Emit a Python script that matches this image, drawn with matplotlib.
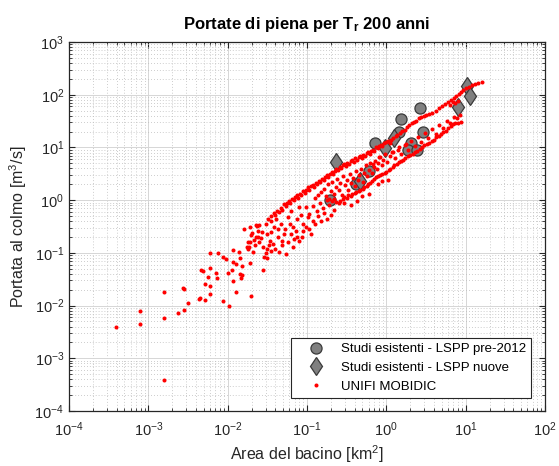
"""Portate di piena per Tr 200 anni: confronto studi esistenti / UNIFI MOBIDIC."""

import numpy as np
import matplotlib

matplotlib.use("Agg")
import matplotlib.pyplot as plt

plt.rcParams["font.family"] = ["Liberation Sans", "DejaVu Sans"]
plt.rcParams["mathtext.fontset"] = "custom"
plt.rcParams["mathtext.rm"] = "Liberation Sans"
plt.rcParams["mathtext.it"] = "Liberation Sans:italic"
plt.rcParams["mathtext.bf"] = "Liberation Sans:bold"

# Studi esistenti - LSPP pre-2012 (area km2, portata m3/s)
pre_area = [2.66, 1.55, 1.43, 2.92, 0.71, 2.07, 1.88, 2.41, 0.60, 0.41, 0.195]
pre_q = [56.0, 34.0, 19.5, 20.0, 12.3, 12.1, 8.8, 9.0, 3.5, 2.05, 1.0]

# Studi esistenti - LSPP nuove
new_area = [10.5, 11.2, 7.9, 1.24, 0.97, 0.232, 0.47]
new_q = [148.0, 94.0, 58.0, 15.3, 9.7, 5.4, 2.3]

# UNIFI MOBIDIC as (log10 area, log10 portata)
mobidic_tail = [
    (-3.41, -2.40), (-3.10, -2.10), (-3.10, -2.35), (-2.80, -1.74), (-2.80, -2.24),
    (-2.80, -3.41), (-2.56, -1.66), (-2.55, -1.69), (-2.62, -2.14), (-2.55, -2.08),
    (-2.50, -1.95), (-2.35, -1.86), (-2.29, -1.89), (-2.22, -1.78), (-2.28, -1.60),
    (-2.22, -1.62), (-2.25, -1.45), (-2.34, -1.32), (-2.31, -1.34), (-2.22, -1.29),
    (-2.15, -1.38), (-2.14, -1.47), (-2.22, -1.00), (-2.06, -1.91), (-1.98, -2.00),
    (-2.12, -1.00), (-2.06, -1.07), (-2.02, -1.12), (-1.93, -0.95), (-1.93, -1.17),
    (-1.94, -1.32), (-1.99, -1.39), (-1.93, -1.53), (-1.89, -1.74), (-1.85, -1.40),
    (-1.82, -1.42), (-1.83, -1.48), (-1.85, -1.09), (-1.82, -1.25), (-1.79, -0.54),
    (-1.76, -0.88), (-1.74, -0.92), (-1.72, -0.80), (-1.72, -1.20), (-1.71, -1.81),
    (-1.63, -0.49), (-1.61, -0.47), (-1.90, -1.22), (-1.86, -0.99), (-2.36, -1.87),
]
mobidic_left = [
    (-1.75, -0.80), (-1.73, -0.89), (-1.68, -0.99), (-1.64, -0.48), (-1.72, -0.51),
    (-1.64, -0.70), (-1.60, -0.80), (-1.56, -0.89), (-1.54, -1.08), (-1.50, -0.92),
    (-1.47, -0.77), (-1.51, -0.64), (-1.45, -0.61), (-1.43, -0.83), (-1.41, -0.51),
    (-1.39, -0.35), (-1.37, -0.70), (-1.35, -0.99), (-1.31, -0.77), (-1.29, -0.64),
    (-1.26, -1.02), (-1.24, -0.32), (-1.22, -0.45), (-1.20, -0.64), (-1.18, -0.51),
    (-1.16, -0.73), (-1.14, -0.58), (-1.13, -0.70), (-1.10, -0.13), (-1.08, -0.29),
    (-1.05, -0.45), (-1.01, -0.13), (-0.99, -0.32), (-1.01, -0.51), (-0.95, -0.64),
    (-0.93, -0.39), (-0.97, -0.26), (-1.05, -0.58), (-1.10, -0.77), (-1.12, -0.35),
    (-1.20, -0.20), (-1.33, -0.45), (-1.28, -0.55), (-1.36, -0.55), (-1.46, -0.40),
    (-1.52, -0.46), (-1.57, -0.60), (-1.62, -0.58), (-1.66, -0.85), (-1.70, -0.66),
    (-1.58, -0.72), (-1.48, -0.86), (-1.40, -0.92), (-1.32, -0.86), (-1.24, -0.80),
    (-1.18, -0.88), (-1.06, -0.70), (-0.98, -0.55), (-0.90, -0.45), (-0.86, -0.30),
    (-0.82, -0.40), (-0.78, -0.25), (-0.75, -0.35), (-0.70, -0.28), (-0.66, -0.18),
    (-1.69, -0.62), (-1.67, -0.75), (-1.62, -0.70), (-1.55, -1.33), (-1.50, -1.10),
    (-1.52, -1.00), (-1.46, -0.96), (-1.49, -0.35),
]
mobidic_upper = [
    (-1.45, -0.30), (-1.42, -0.24), (-1.40, -0.28), (-1.38, -0.20), (-1.35, -0.22),
    (-1.33, -0.15), (-1.31, -0.18), (-1.29, -0.08), (-1.27, -0.12), (-1.25, -0.05),
    (-1.23, -0.02), (-1.21, -0.06), (-1.19, 0.03), (-1.17, 0.00), (-1.15, 0.06),
    (-1.13, 0.09), (-1.11, 0.04), (-1.09, 0.12), (-1.07, 0.10), (-1.05, 0.17),
    (-1.03, 0.14), (-1.01, 0.20), (-0.99, 0.24), (-0.97, 0.19), (-0.95, 0.27),
    (-0.93, 0.29), (-0.91, 0.25), (-0.89, 0.33), (-0.87, 0.31), (-0.85, 0.37),
    (-0.83, 0.34), (-0.81, 0.41), (-0.79, 0.39), (-0.77, 0.44), (-0.75, 0.47),
    (-0.73, 0.43), (-0.71, 0.50), (-0.69, 0.53), (-0.67, 0.49), (-0.65, 0.56),
    (-0.63, 0.60), (-0.61, 0.57), (-0.59, 0.63), (-0.57, 0.61), (-0.55, 0.66),
    (-0.53, 0.69), (-0.51, 0.65), (-0.49, 0.71), (-0.47, 0.68), (-0.45, 0.74),
    (-0.43, 0.76), (-0.41, 0.72), (-0.39, 0.79), (-0.37, 0.77), (-0.35, 0.81),
    (-0.33, 0.84), (-0.31, 0.80), (-0.29, 0.86), (-0.27, 0.83), (-0.25, 0.89),
    (-0.23, 0.92), (-0.21, 0.88), (-0.19, 0.94), (-0.17, 0.96), (-0.15, 0.93),
    (-0.13, 1.00), (-0.11, 0.98), (-0.09, 1.02), (-0.07, 1.05), (-0.05, 1.03),
    (-0.03, 1.08), (-0.01, 1.10), (0.02, 1.12), (0.04, 1.09), (0.06, 1.15),
    (0.09, 1.18), (0.12, 1.21), (0.14, 1.24), (0.17, 1.27), (0.20, 1.31),
    (0.23, 1.34), (0.26, 1.38), (0.29, 1.42), (0.32, 1.46), (0.35, 1.49),
    (0.38, 1.51), (0.41, 1.55), (0.44, 1.57), (0.47, 1.59), (0.50, 1.61),
    (0.54, 1.63), (0.58, 1.66), (0.62, 1.70), (0.66, 1.75), (0.70, 1.79),
    (0.74, 1.83), (0.78, 1.87), (0.82, 1.90), (0.85, 1.94), (0.88, 1.97),
    (0.91, 2.01), (0.94, 2.05), (0.97, 2.09), (1.00, 2.12), (1.04, 2.15),
    (1.08, 2.18), (1.12, 2.21), (1.16, 2.23), (1.20, 2.25), (0.84, 1.86),
    (0.87, 1.84), (0.80, 1.80), (0.90, 1.88),
]
mobidic_lower = [
    (-0.75, 0.00), (-0.72, 0.03), (-0.69, -0.02), (-0.66, 0.02), (-0.63, -0.03),
    (-0.60, -0.05), (-0.58, -0.01), (-0.55, 0.03), (-0.53, 0.06), (-0.50, 0.05),
    (-0.48, 0.09), (-0.45, 0.08), (-0.43, 0.12), (-0.40, 0.14), (-0.38, 0.16),
    (-0.35, 0.18), (-0.33, 0.20), (-0.30, 0.22), (-0.28, 0.25), (-0.25, 0.27),
    (-0.23, 0.30), (-0.20, 0.33), (-0.18, 0.37), (-0.15, 0.41), (-0.13, 0.44),
    (-0.10, 0.46), (-0.08, 0.48), (-0.05, 0.50), (-0.02, 0.52), (0.00, 0.54),
    (0.03, 0.58), (0.05, 0.60), (0.08, 0.63), (0.10, 0.66), (0.13, 0.69),
    (0.16, 0.72), (0.18, 0.75), (0.21, 0.77), (0.24, 0.80), (0.27, 0.83),
    (0.30, 0.86), (0.33, 0.88), (0.36, 0.91), (0.39, 0.94), (0.42, 0.97),
    (0.45, 1.00), (0.48, 1.04), (0.51, 1.07), (0.54, 1.09), (0.57, 1.12),
    (0.60, 1.15), (0.63, 1.19), (0.66, 1.22), (0.69, 1.25), (0.72, 1.29),
    (0.75, 1.32), (0.78, 1.36), (0.81, 1.40), (0.84, 1.44), (0.87, 1.46),
    (0.90, 1.47), (0.94, 1.49),
]
mobidic_middle = [
    (-0.92, -0.12), (-0.90, 0.05), (-0.88, -0.20), (-0.86, 0.10), (-0.84, -0.05),
    (-0.82, 0.15), (-0.80, -0.15), (-0.78, 0.22), (-0.76, 0.08), (-0.74, 0.30),
    (-0.72, -0.10), (-0.70, 0.18), (-0.68, 0.35), (-0.66, 0.12), (-0.64, 0.25),
    (-0.62, 0.40), (-0.60, 0.20), (-0.58, 0.32), (-0.56, 0.10), (-0.54, 0.45),
    (-0.52, 0.28), (-0.50, 0.38), (-0.48, 0.20), (-0.46, 0.50), (-0.44, 0.33),
    (-0.42, 0.42), (-0.40, 0.27), (-0.38, 0.55), (-0.36, 0.38), (-0.34, 0.47),
    (-0.32, 0.60), (-0.30, 0.35), (-0.28, 0.52), (-0.26, 0.66), (-0.24, 0.45),
    (-0.22, 0.58), (-0.20, 0.70), (-0.18, 0.52), (-0.16, 0.63), (-0.14, 0.75),
    (-0.12, 0.60), (-0.10, 0.70), (-0.08, 0.82), (-0.06, 0.66), (-0.04, 0.76),
    (-0.02, 0.88), (0.01, 0.72), (0.04, 0.84), (0.07, 0.92), (0.11, 0.80),
    (0.15, 0.95), (0.19, 0.88), (0.23, 1.05), (0.27, 0.96), (0.31, 1.12),
    (0.36, 1.02), (0.40, 1.20), (0.44, 1.10), (0.49, 1.28), (0.53, 1.18),
    (0.58, 1.35), (0.62, 1.26), (0.67, 1.42), (0.71, 1.37), (0.76, 1.50),
    (0.80, 1.46), (0.85, 1.58), (0.89, 1.55), (0.93, 1.62), (-0.53, -0.06),
    (-0.45, -0.09), (-0.37, -0.01), (-0.31, 0.08), (-0.22, 0.12), (-0.10, 0.30),
    (0.02, 0.38), (-0.05, 0.36), (0.16, 1.01), (0.25, 1.07), (0.08, 0.91),
    (-0.09, 0.82), (-0.17, 0.69),
]

mobidic = np.array(mobidic_tail + mobidic_left + mobidic_upper + mobidic_lower + mobidic_middle)
mobidic_area = 10.0 ** mobidic[:, 0]
mobidic_q = 10.0 ** mobidic[:, 1]

fig = plt.figure(figsize=(5.59, 4.66), dpi=100)
ax = fig.add_axes([69 / 559, 55 / 466, 476 / 559, 369 / 466])

ax.plot(pre_area, pre_q, "o", color="#808080", markeredgecolor="#3a3a3a",
        markersize=8, markeredgewidth=0.9, label="Studi esistenti - LSPP pre-2012", zorder=3)
ax.plot(new_area, new_q, "d", color="#808080", markeredgecolor="#3a3a3a",
        markersize=9.5, markeredgewidth=0.9, label="Studi esistenti - LSPP nuove", zorder=4)
ax.plot(mobidic_area, mobidic_q, "o", color="#ff0000", markeredgewidth=0,
        markersize=2.9, label="UNIFI MOBIDIC", zorder=5)

ax.set_xscale("log")
ax.set_yscale("log")
ax.set_xlim(1e-4, 1e2)
ax.set_ylim(1e-4, 1e3)
ax.set_xticks([10.0 ** k for k in range(-4, 3)])
ax.set_yticks([10.0 ** k for k in range(-4, 4)])

ax.grid(True, which="major", color="#d6d6d6", linewidth=0.7, linestyle="-")
ax.grid(True, which="minor", color="#bcbcbc", linewidth=0.6, linestyle=(0, (1, 2.5)))
ax.set_axisbelow(True)

ax.tick_params(which="both", direction="in", top=True, right=True, colors="#262626",
               labelsize=10.5)
ax.tick_params(which="major", length=4, width=0.8)
ax.tick_params(which="minor", length=2, width=0.6)
ax.tick_params(axis="x", pad=7)
for spine in ax.spines.values():
    spine.set_color("#262626")
    spine.set_linewidth(0.9)

ax.set_xlabel("Area del bacino [km$^2$]", fontsize=11.5, color="#262626", labelpad=3)
ax.set_ylabel("Portata al colmo [m$^3$/s]", fontsize=11.5, color="#262626", labelpad=4)
ax.set_title(r"Portate di piena per T$_{\mathbf{r}}$ 200 anni", fontsize=12,
             fontweight="bold", pad=9)

leg = ax.legend(loc="lower right", bbox_to_anchor=(0.971, 0.035), borderaxespad=0,
                fontsize=9.5, frameon=True, fancybox=False, framealpha=1,
                edgecolor="#262626", handletextpad=0.4, borderpad=0.4,
                labelspacing=0.5, handlelength=3.0)
leg.get_frame().set_linewidth(0.8)

fig.savefig("out.png", dpi=100)
